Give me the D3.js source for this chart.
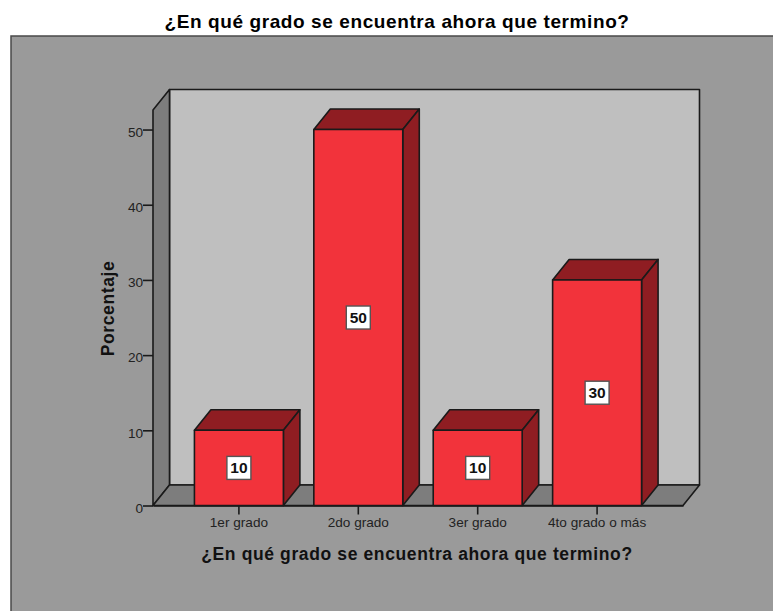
<!DOCTYPE html>
<html>
<head>
<meta charset="utf-8">
<script src="https://cdn.jsdelivr.net/npm/d3@7"></script>
<style>
  html, body { margin: 0; padding: 0; background: #fff; }
  svg { display: block; }
  text { font-family: "Liberation Sans", Arial, sans-serif; }
</style>
</head>
<body>
<svg id="chart"></svg>
<script>
const categories = ["1er grado", "2do grado", "3er grado", "4to grado o más"];
const values = [10, 50, 10, 30];
const yTicks = [0, 10, 20, 30, 40, 50];
const yMax = 52.6;
const chartTitle = "¿En qué grado se encuentra ahora que termino?";
const yTitle = "Porcentaje";

const width = 773;
const height = 611;
const plotLeft = 153, plotRight = 683, plotTop = 110, plotBottom = 505.5;
const dx = 16.5, dy = -20.5;
const line = "#1a1a1a";

const svg = d3.select("#chart").attr("width", width).attr("height", height);

const x = d3.scaleBand().domain(categories).range([plotLeft, plotRight])
  .paddingInner(0.255).paddingOuter(0.347);
const y = d3.scaleLinear().domain([0, yMax]).range([plotBottom, plotTop]);

// frame
svg.append("rect")
  .attr("x", 11).attr("y", 36).attr("width", width + 10).attr("height", height)
  .attr("fill", "#9a9a9a").attr("stroke", "#4a4a4a").attr("stroke-width", 1.5);

svg.append("text")
  .attr("x", 397).attr("y", 28)
  .attr("text-anchor", "middle")
  .attr("font-size", 19).attr("font-weight", "bold").attr("fill", "#000")
  .attr("letter-spacing", 0.6)
  .text(chartTitle);

// walls
const poly = (pts, fill) => svg.append("polygon")
  .attr("points", pts.map(p => p.join(",")).join(" "))
  .attr("fill", fill).attr("stroke", line).attr("stroke-width", 1.6)
  .attr("stroke-linejoin", "round");

poly([[plotLeft + dx, plotTop + dy], [plotRight + dx, plotTop + dy], [plotRight + dx, plotBottom + dy], [plotLeft + dx, plotBottom + dy]], "#bfbfbf");
poly([[plotLeft, plotTop], [plotLeft + dx, plotTop + dy], [plotLeft + dx, plotBottom + dy], [plotLeft, plotBottom]], "#7d7d7d");
poly([[plotLeft, plotBottom], [plotLeft + dx, plotBottom + dy], [plotRight + dx, plotBottom + dy], [plotRight, plotBottom]], "#7d7d7d");

// axes
const yAxis = d3.axisLeft(y).tickValues(yTicks).tickSize(10).tickPadding(0);
const xAxis = d3.axisBottom(x).tickSize(9).tickSizeOuter(0).tickPadding(3);

const gy = svg.append("g").attr("transform", `translate(${plotLeft},0)`).call(yAxis);
const gx = svg.append("g").attr("transform", `translate(0,${plotBottom})`).call(xAxis);
gy.select(".domain").remove();
gx.select(".domain").attr("stroke", line).attr("stroke-width", 1.6);
[gy, gx].forEach(g => {
  g.selectAll(".tick line").attr("stroke", line).attr("stroke-width", 1.6);
  g.selectAll(".tick text").attr("fill", "#222").attr("font-size", 13.6)
    .style("font-family", '"Liberation Sans", Arial, sans-serif');
});
gy.selectAll(".tick text").attr("dy", "0.5em");

// bars
values.forEach((v, i) => {
  const x0 = x(categories[i]), x1 = x0 + x.bandwidth(), yt = y(v);
  poly([[x0, yt], [x0 + dx, yt + dy], [x1 + dx, yt + dy], [x1, yt]], "#8f1d22");
  poly([[x1, yt], [x1 + dx, yt + dy], [x1 + dx, plotBottom + dy], [x1, plotBottom]], "#8f1d22");
  poly([[x0, yt], [x1, yt], [x1, plotBottom], [x0, plotBottom]], "#f2333b");
});

// value labels
values.forEach((v, i) => {
  const cx = x(categories[i]) + x.bandwidth() / 2;
  const cy = (y(v) + plotBottom) / 2;
  svg.append("rect")
    .attr("x", cx - 12).attr("y", cy - 11.5).attr("width", 24).attr("height", 23)
    .attr("fill", "#fff").attr("stroke", "#555").attr("stroke-width", 1.4);
  svg.append("text")
    .attr("x", cx).attr("y", cy + 5.5)
    .attr("text-anchor", "middle")
    .attr("font-size", 15.5).attr("font-weight", "bold").attr("fill", "#111")
    .text(v);
});

// axis titles
svg.append("text")
  .attr("x", 417).attr("y", 560)
  .attr("text-anchor", "middle")
  .attr("font-size", 17.5).attr("font-weight", "bold").attr("fill", "#111")
  .attr("letter-spacing", 0.62)
  .text(chartTitle);

svg.append("text")
  .attr("transform", "translate(114,308.5) rotate(-90)")
  .attr("text-anchor", "middle")
  .attr("font-size", 17.5).attr("font-weight", "bold").attr("fill", "#111")
  .attr("letter-spacing", 0.62)
  .text(yTitle);
</script>
</body>
</html>
